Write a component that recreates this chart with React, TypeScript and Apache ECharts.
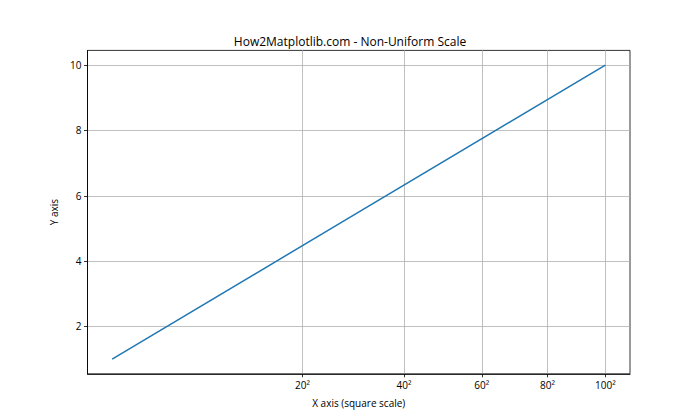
import React, { useEffect, useRef } from "react";
import * as echarts from "echarts";

const xValues = [1, 25, 100];
const yValues = [1, 5, 10];
const xTickValues = [20, 40, 60, 80, 100];
const yTickValues = [2, 4, 6, 8, 10];
const titleText = "How2Matplotlib.com - Non-Uniform Scale";
const xAxisTitle = "X axis (square scale)";
const yAxisTitle = "Y axis";

const FONT = "'Open Sans', 'Noto Sans', sans-serif";

export default function App() {
  const ref = useRef<HTMLDivElement>(null);
  useEffect(() => {
    if (!ref.current) return;
    const chart = echarts.init(ref.current, null, { renderer: "svg" });
    const data = xValues.map((x, i) => [Math.sqrt(x), yValues[i]]);
    chart.setOption({
      animation: false,
      backgroundColor: "#ffffff",
      title: {
        text: titleText,
        left: "center",
        top: 30,
        textStyle: { fontFamily: FONT, fontSize: 12, fontWeight: "normal", color: "#000" },
      },
      grid: {
        left: 87.5,
        right: 70,
        top: 50.4,
        bottom: 46.2,
        show: true,
        borderColor: "#000",
        borderWidth: 0.8,
        backgroundColor: "transparent",
      },
      xAxis: {
        type: "value",
        min: 0.55,
        max: 10.45,
        name: xAxisTitle,
        nameLocation: "middle",
        nameGap: 24,
        nameTextStyle: { fontFamily: FONT, fontSize: 10, color: "#000" },
        axisLine: { show: true, lineStyle: { color: "#000", width: 0.8 } },
        axisTick: {
          show: true,
          length: 3.5,
          lineStyle: { color: "#000", width: 0.8 },
          customValues: xTickValues.map(Math.sqrt),
        },
        axisLabel: {
          fontFamily: FONT,
          fontSize: 10,
          color: "#000",
          margin: 6,
          customValues: xTickValues.map(Math.sqrt),
          formatter: (v: number) => Math.round(v * v) + "²",
        },
        splitLine: { show: true, lineStyle: { color: "#b0b0b0", width: 0.8 } },
      },
      yAxis: {
        type: "value",
        min: 0.55,
        max: 10.45,
        name: yAxisTitle,
        nameLocation: "middle",
        nameGap: 27,
        nameTextStyle: { fontFamily: FONT, fontSize: 10, color: "#000" },
        axisLine: { show: true, lineStyle: { color: "#000", width: 0.8 } },
        axisTick: {
          show: true,
          length: 3.5,
          lineStyle: { color: "#000", width: 0.8 },
          customValues: yTickValues,
        },
        axisLabel: {
          fontFamily: FONT,
          fontSize: 10,
          color: "#000",
          margin: 6,
          customValues: yTickValues,
        },
        splitLine: { show: true, lineStyle: { color: "#b0b0b0", width: 0.8 } },
      },
      series: [
        {
          type: "line",
          data,
          symbol: "none",
          lineStyle: { color: "#1f77b4", width: 1.5 },
        },
      ],
    });
    return () => chart.dispose();
  }, []);
  return <div ref={ref} style={{ width: 700, height: 420, margin: -8 }} />;
}
